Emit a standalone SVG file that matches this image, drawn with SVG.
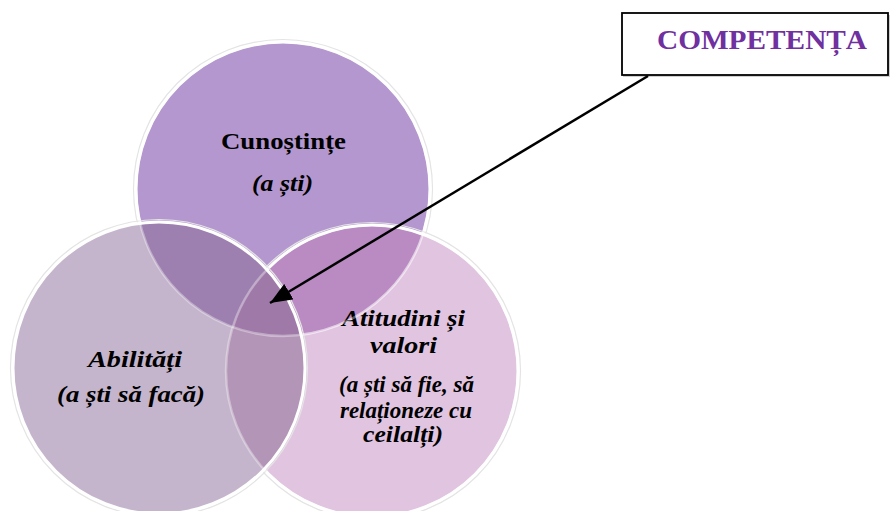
<svg xmlns="http://www.w3.org/2000/svg" width="890" height="511" viewBox="0 0 890 511">
  <style>
    .lbl { font-family: "Liberation Serif", "Times New Roman", serif; font-size: 23px; font-weight: bold; fill: #000; text-anchor: middle; }
    .it { font-style: italic; }
    .ring { fill: none; stroke: #ffffff; stroke-width: 3; }
    .faint { fill: none; stroke: #ffffff; stroke-opacity: 0.35; stroke-width: 2.5; }
    .shadow { fill: none; stroke: #e4e4e4; stroke-width: 1.2; }
    .title { font-family: "Liberation Serif", "Times New Roman", serif; font-size: 27px; font-weight: bold; fill: #7030A0; text-anchor: middle; }
  </style>
  <defs>
    <clipPath id="clipTop"><circle cx="283" cy="189" r="147"/></clipPath>
    <clipPath id="clipRight"><circle cx="372" cy="371" r="146"/></clipPath>
    <marker id="arrow" markerUnits="userSpaceOnUse" markerWidth="24" markerHeight="18" refX="22" refY="9" orient="auto">
      <path d="M0,0 L22,9 L0,18 z" fill="#000"/>
    </marker>
  </defs>
  <rect width="890" height="511" fill="#ffffff"/>

  <g id="node-cunostinte">
    <circle class="shadow" cx="283" cy="189" r="149.5"/>
    <circle cx="283" cy="189" r="147" fill="#B497CE"/>
    <circle class="ring" cx="283" cy="189" r="147"/>
    <text class="lbl" x="283.5" y="149" textLength="125" lengthAdjust="spacingAndGlyphs">Cunoștințe</text>
    <text class="lbl it" x="282.5" y="191" textLength="61" lengthAdjust="spacingAndGlyphs">(a ști)</text>
  </g>

  <g id="node-atitudini">
    <circle class="shadow" cx="372" cy="371" r="148.5"/>
    <circle cx="372" cy="371" r="146" fill="#E0C4E0"/>
    <circle cx="372" cy="371" r="146" fill="#BA8BC3" clip-path="url(#clipTop)"/>
    <circle class="faint" cx="283" cy="189" r="147" clip-path="url(#clipRight)"/>
    <circle class="ring" cx="372" cy="371" r="146"/>
    <text class="lbl it" x="403.5" y="326" textLength="123" lengthAdjust="spacingAndGlyphs">Atitudini și</text>
    <text class="lbl it" x="403.5" y="353" textLength="67" lengthAdjust="spacingAndGlyphs">valori</text>
    <text class="lbl it" x="406.5" y="392" textLength="135" lengthAdjust="spacingAndGlyphs">(a ști să fie, să</text>
    <text class="lbl it" x="406" y="418" textLength="132" lengthAdjust="spacingAndGlyphs">relaționeze cu</text>
    <text class="lbl it" x="403" y="442" textLength="80" lengthAdjust="spacingAndGlyphs">ceilalți)</text>
  </g>

  <g id="node-abilitati">
    <circle class="shadow" cx="159" cy="368" r="148.5"/>
    <circle cx="159" cy="368" r="146" fill="#C4B5CC"/>
    <circle cx="159" cy="368" r="146" fill="#9D80AF" clip-path="url(#clipTop)"/>
    <circle cx="159" cy="368" r="146" fill="#B395B7" clip-path="url(#clipRight)"/>
    <g clip-path="url(#clipRight)">
      <circle cx="159" cy="368" r="146" fill="#9F7AA8" clip-path="url(#clipTop)"/>
    </g>
    <circle class="faint" cx="283" cy="189" r="147"/>
    <circle class="faint" cx="372" cy="371" r="146"/>
    <circle class="ring" cx="159" cy="368" r="146"/>
    <text class="lbl it" x="135" y="367" textLength="94" lengthAdjust="spacingAndGlyphs">Abilități</text>
    <text class="lbl it" x="131" y="402" textLength="148" lengthAdjust="spacingAndGlyphs">(a ști să facă)</text>
  </g>

  <g id="node-competenta">
    <rect x="623" y="15" width="267" height="62" fill="#a0a0a0" opacity="0.5"/>
    <rect x="622" y="13" width="266" height="62" fill="#ffffff" stroke="#000" stroke-width="1.8"/>
    <text class="title" x="762" y="49" textLength="210" lengthAdjust="spacingAndGlyphs">COMPETENȚA</text>
  </g>

  <g id="connectors">
    <line x1="648" y1="76" x2="270" y2="303" stroke="#000" stroke-width="2.5" marker-end="url(#arrow)"/>
  </g>
</svg>
